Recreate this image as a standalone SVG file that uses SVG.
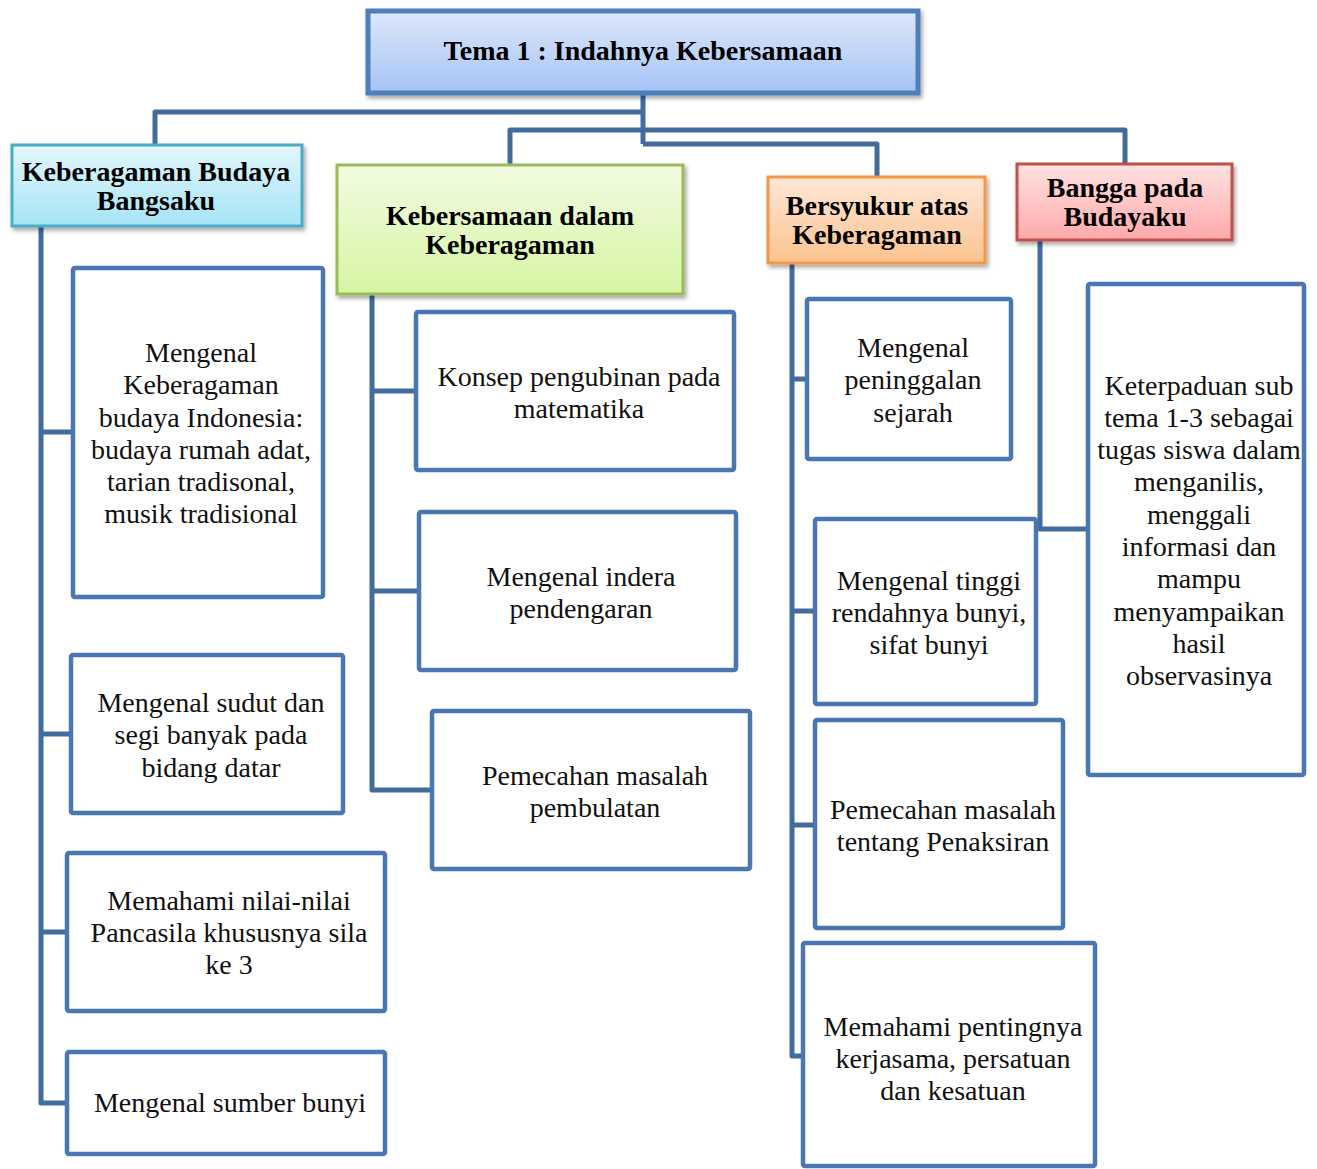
<svg xmlns="http://www.w3.org/2000/svg" width="1317" height="1169" viewBox="0 0 1317 1169">
  <defs>
    <linearGradient id="gTop" x1="0" y1="0" x2="0" y2="1">
      <stop offset="0" stop-color="#dde8fb"/>
      <stop offset="1" stop-color="#a5c3f5"/>
    </linearGradient>
    <linearGradient id="gCyan" x1="0" y1="0" x2="0" y2="1">
      <stop offset="0" stop-color="#e3f6fb"/>
      <stop offset="1" stop-color="#a6e4f6"/>
    </linearGradient>
    <linearGradient id="gGreen" x1="0" y1="0" x2="0" y2="1">
      <stop offset="0" stop-color="#f2fbe2"/>
      <stop offset="1" stop-color="#d6f5a2"/>
    </linearGradient>
    <linearGradient id="gOrange" x1="0" y1="0" x2="0" y2="1">
      <stop offset="0" stop-color="#fee7d6"/>
      <stop offset="1" stop-color="#fbc38f"/>
    </linearGradient>
    <linearGradient id="gRed" x1="0" y1="0" x2="0" y2="1">
      <stop offset="0" stop-color="#ffe2e2"/>
      <stop offset="1" stop-color="#ffa9a9"/>
    </linearGradient>
    <filter id="shadow" x="-10%" y="-10%" width="120%" height="130%">
      <feDropShadow dx="2" dy="3" stdDeviation="2" flood-color="#000" flood-opacity="0.35"/>
    </filter>
  </defs>
  <style>
    .conn { fill: none; stroke: #426b9e; stroke-width: 5; stroke-linejoin: round; stroke-linecap: butt; }
    .leaf rect { fill: #ffffff; stroke: #4a76b2; stroke-width: 4.5; }
    .leaf text { font-family: "Liberation Serif", "Times New Roman", serif; font-size: 28px; fill: #111; text-anchor: middle; }
    .cat text, .root text { font-family: "Liberation Serif", "Times New Roman", serif; font-size: 28px; font-weight: bold; fill: #000; text-anchor: middle; }
  </style>

  <!-- connectors -->
  <g id="connectors">
    <path class="conn" d="M643,93 V144"/>
    <path class="conn" d="M643,112 H155 V145"/>
    <path class="conn" d="M510,165 V130 H1125 V164"/>
    <path class="conn" d="M643,144 H877 V177"/>
    <!-- column 1 -->
    <path class="conn" d="M41,226 V1103 H67"/>
    <path class="conn" d="M41,432 H73"/>
    <path class="conn" d="M41,734 H71"/>
    <path class="conn" d="M41,932 H67"/>
    <!-- column 2 -->
    <path class="conn" d="M372,294 V790 H432"/>
    <path class="conn" d="M372,391 H416"/>
    <path class="conn" d="M372,591 H419"/>
    <!-- column 3 -->
    <path class="conn" d="M792,263 V1056 H803"/>
    <path class="conn" d="M792,379 H807"/>
    <path class="conn" d="M792,611 H815"/>
    <path class="conn" d="M792,825 H815"/>
    <!-- column 4 -->
    <path class="conn" d="M1040,240 V529 H1088"/>
  </g>

  <!-- root -->
  <g id="root" class="root">
    <rect x="368" y="11" width="550" height="82" fill="url(#gTop)" stroke="#4f7fbb" stroke-width="5" filter="url(#shadow)"/>
    <text x="643" y="60">Tema 1 : Indahnya Kebersamaan</text>
  </g>

  <!-- sub-themes -->
  <g id="cat-budaya-bangsaku" class="cat">
    <rect x="12" y="145" width="290" height="81" fill="url(#gCyan)" stroke="#4bacc6" stroke-width="3" filter="url(#shadow)"/>
    <text x="156" y="181">Keberagaman Budaya</text>
    <text x="156" y="210">Bangsaku</text>
  </g>
  <g id="cat-kebersamaan" class="cat">
    <rect x="337" y="165" width="346" height="129" fill="url(#gGreen)" stroke="#9bbb59" stroke-width="3" filter="url(#shadow)"/>
    <text x="510" y="225">Kebersamaan dalam</text>
    <text x="510" y="254">Keberagaman</text>
  </g>
  <g id="cat-bersyukur" class="cat">
    <rect x="768" y="177" width="217" height="86" fill="url(#gOrange)" stroke="#f79646" stroke-width="3" filter="url(#shadow)"/>
    <text x="877" y="215">Bersyukur atas</text>
    <text x="877" y="244">Keberagaman</text>
  </g>
  <g id="cat-bangga" class="cat">
    <rect x="1017" y="164" width="215" height="76" fill="url(#gRed)" stroke="#c0504d" stroke-width="3" filter="url(#shadow)"/>
    <text x="1125" y="197">Bangga pada</text>
    <text x="1125" y="226">Budayaku</text>
  </g>

  <!-- column 1 topics -->
  <g id="a1" class="leaf">
    <rect x="73" y="268" width="250" height="329" rx="2"/>
    <text x="201" y="362">Mengenal</text>
    <text x="201" y="394">Keberagaman</text>
    <text x="201" y="427">budaya Indonesia:</text>
    <text x="201" y="459">budaya rumah adat,</text>
    <text x="201" y="491">tarian tradisonal,</text>
    <text x="201" y="523">musik tradisional</text>
  </g>
  <g id="a2" class="leaf">
    <rect x="71" y="655" width="272" height="158" rx="2"/>
    <text x="211" y="712">Mengenal sudut dan</text>
    <text x="211" y="744">segi banyak pada</text>
    <text x="211" y="777">bidang datar</text>
  </g>
  <g id="a3" class="leaf">
    <rect x="67" y="853" width="318" height="158" rx="2"/>
    <text x="229" y="910">Memahami nilai-nilai</text>
    <text x="229" y="942">Pancasila khususnya sila</text>
    <text x="229" y="974">ke 3</text>
  </g>
  <g id="a4" class="leaf">
    <rect x="67" y="1052" width="318" height="102" rx="2"/>
    <text x="230" y="1112">Mengenal sumber bunyi</text>
  </g>

  <!-- column 2 topics -->
  <g id="b1" class="leaf">
    <rect x="416" y="312" width="318" height="158" rx="2"/>
    <text x="579" y="386">Konsep pengubinan pada</text>
    <text x="579" y="418">matematika</text>
  </g>
  <g id="b2" class="leaf">
    <rect x="419" y="512" width="317" height="158" rx="2"/>
    <text x="581" y="586">Mengenal indera</text>
    <text x="581" y="618">pendengaran</text>
  </g>
  <g id="b3" class="leaf">
    <rect x="432" y="711" width="318" height="158" rx="2"/>
    <text x="595" y="785">Pemecahan masalah</text>
    <text x="595" y="817">pembulatan</text>
  </g>

  <!-- column 3 topics -->
  <g id="c1" class="leaf">
    <rect x="807" y="299" width="204" height="160" rx="2"/>
    <text x="913" y="357">Mengenal</text>
    <text x="913" y="389">peninggalan</text>
    <text x="913" y="422">sejarah</text>
  </g>
  <g id="c2" class="leaf">
    <rect x="815" y="519" width="221" height="185" rx="2"/>
    <text x="929" y="590">Mengenal tinggi</text>
    <text x="929" y="622">rendahnya bunyi,</text>
    <text x="929" y="654">sifat bunyi</text>
  </g>
  <g id="c3" class="leaf">
    <rect x="815" y="720" width="248" height="208" rx="2"/>
    <text x="943" y="819">Pemecahan masalah</text>
    <text x="943" y="851">tentang Penaksiran</text>
  </g>
  <g id="c4" class="leaf">
    <rect x="803" y="943" width="292" height="223" rx="2"/>
    <text x="953" y="1036">Memahami pentingnya</text>
    <text x="953" y="1068">kerjasama, persatuan</text>
    <text x="953" y="1100">dan kesatuan</text>
  </g>

  <!-- column 4 topic -->
  <g id="d1" class="leaf">
    <rect x="1088" y="284" width="216" height="491" rx="2"/>
    <text x="1199" y="395">Keterpaduan sub</text>
    <text x="1199" y="427">tema 1-3 sebagai</text>
    <text x="1199" y="459">tugas siswa dalam</text>
    <text x="1199" y="491">menganilis,</text>
    <text x="1199" y="524">menggali</text>
    <text x="1199" y="556">informasi dan</text>
    <text x="1199" y="588">mampu</text>
    <text x="1199" y="621">menyampaikan</text>
    <text x="1199" y="653">hasil</text>
    <text x="1199" y="685">observasinya</text>
  </g>
</svg>
